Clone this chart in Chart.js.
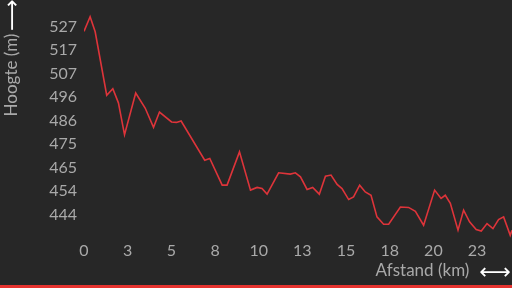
<!DOCTYPE html>
<html>
<head>
<meta charset="utf-8">
<script src="https://cdn.jsdelivr.net/npm/chart.js@4/dist/chart.umd.min.js"></script>
<style>
  html, body { margin: 0; padding: 0; background: #272727; }
  #wrap { position: relative; width: 512px; height: 288px; overflow: hidden; background: #272727; }
  #c { position: absolute; left: 0; top: 0; }
  #bar { position: absolute; left: 0; bottom: 0; width: 512px; height: 3px; background: #e5332f; }
</style>
</head>
<body>
<div id="wrap">
  <canvas id="c" width="512" height="288"></canvas>
  <div id="bar"></div>
</div>
<script>
// Distance (km)
const distanceKm = [0, 0.35, 0.64, 1.30, 1.65, 1.97, 2.32, 2.96, 3.50, 3.98, 4.32, 5.01, 5.29, 5.56, 6.91, 7.20, 7.91, 8.19, 8.90, 9.53, 9.91, 10.19, 10.48, 11.14, 11.81, 12.10, 12.39, 12.77, 13.09, 13.47, 13.82, 14.14, 14.49, 14.77, 15.15, 15.43, 15.78, 16.10, 16.43, 16.77, 17.15, 17.44, 18.11, 18.58, 18.97, 19.44, 20.07, 20.44, 20.68, 20.97, 21.41, 21.73, 22.07, 22.45, 22.74, 23.07, 23.41, 23.73, 24.02, 24.40, 24.50];
// Elevation (m)
const elevationM = [525.3, 531.8, 525.1, 496.9, 499.8, 493.5, 479.3, 497.9, 491.2, 482.6, 489.4, 485.0, 484.8, 485.4, 468.0, 468.8, 456.9, 456.9, 471.7, 454.7, 455.9, 455.4, 452.9, 462.4, 461.8, 462.4, 460.6, 455.0, 455.9, 452.9, 460.9, 461.4, 457.2, 455.4, 450.5, 451.7, 456.9, 453.9, 452.4, 442.8, 439.5, 439.5, 447.2, 447.0, 445.3, 439.1, 454.7, 451.0, 452.4, 448.8, 436.9, 445.8, 440.6, 437.2, 436.5, 439.8, 437.6, 441.6, 442.8, 434.6, 436.8];
// Tick positions
const xTickValues = [0, 2.5, 5, 7.5, 10, 12.5, 15, 17.5, 20, 22.5];
const yTickValues = [443.85, 454.3, 464.75, 475.2, 485.65, 496.1, 506.55, 517, 527.45];
// Titles
const xTitle = 'Afstand (km)';
const yTitle = 'Hoogte (m)';
const xArrow = '⟷';
const yArrow = '⟶';

const labelColor = '#a9a9a9';
const tickFont = { family: 'Lato', size: 16 };

const titlesPlugin = {
  id: 'titles',
  afterDraw(chart) {
    const ctx = chart.ctx;
    ctx.save();
    ctx.fillStyle = labelColor;
    ctx.font = '17px Lato';
    ctx.textAlign = 'center';
    ctx.textBaseline = 'middle';
    ctx.fillText(xTitle, 422.5, 271);
    ctx.fillStyle = '#ffffff';
    ctx.font = '22px "DejaVu Sans"';
    ctx.fillText(xArrow, 495, 273);
    // y title rotated
    ctx.translate(12, 75);
    ctx.rotate(-Math.PI / 2);
    ctx.fillStyle = labelColor;
    ctx.font = '17px Lato';
    ctx.fillText(yTitle, 0, 0);
    ctx.restore();
    ctx.save();
    ctx.translate(13, 15);
    ctx.rotate(-Math.PI / 2);
    ctx.fillStyle = '#ffffff';
    ctx.font = '22px "DejaVu Sans"';
    ctx.textAlign = 'center';
    ctx.textBaseline = 'middle';
    ctx.fillText(yArrow, 0, 0);
    ctx.restore();
  }
};

new Chart(document.getElementById('c'), {
  type: 'line',
  data: {
    datasets: [{
      data: distanceKm.map((x, i) => ({ x: x, y: elevationM[i] })),
      borderColor: '#de343a',
      borderWidth: 1.6,
      pointRadius: 0,
      tension: 0,
      fill: false
    }]
  },
  options: {
    responsive: false,
    animation: false,
    layout: { padding: { top: 3, right: 0, bottom: 0, left: 0 } },
    plugins: { legend: { display: false }, tooltip: { enabled: false } },
    scales: {
      x: {
        type: 'linear',
        min: 0,
        max: 24.5,
        grid: { display: false, drawTicks: false },
        border: { display: false },
        afterBuildTicks: s => { s.ticks = xTickValues.map(v => ({ value: v })); },
        afterFit: s => { s.height = 50; s.paddingLeft = 0; s.paddingRight = 0; },
        ticks: {
          color: labelColor, font: tickFont, padding: 3, maxRotation: 0, autoSkip: false,
          callback: v => String(Math.round(v))
        }
      },
      y: {
        type: 'linear',
        min: 433.4,
        max: 537.9,
        grid: { display: false, drawTicks: false },
        border: { display: false },
        afterBuildTicks: s => { s.ticks = yTickValues.map(v => ({ value: v })); },
        afterFit: s => { s.width = 84; s.paddingTop = 0; s.paddingBottom = 0; },
        ticks: {
          color: labelColor, font: tickFont, padding: 7, autoSkip: false,
          callback: v => String(Math.round(v))
        }
      }
    }
  },
  plugins: [titlesPlugin]
});
</script>
</body>
</html>
